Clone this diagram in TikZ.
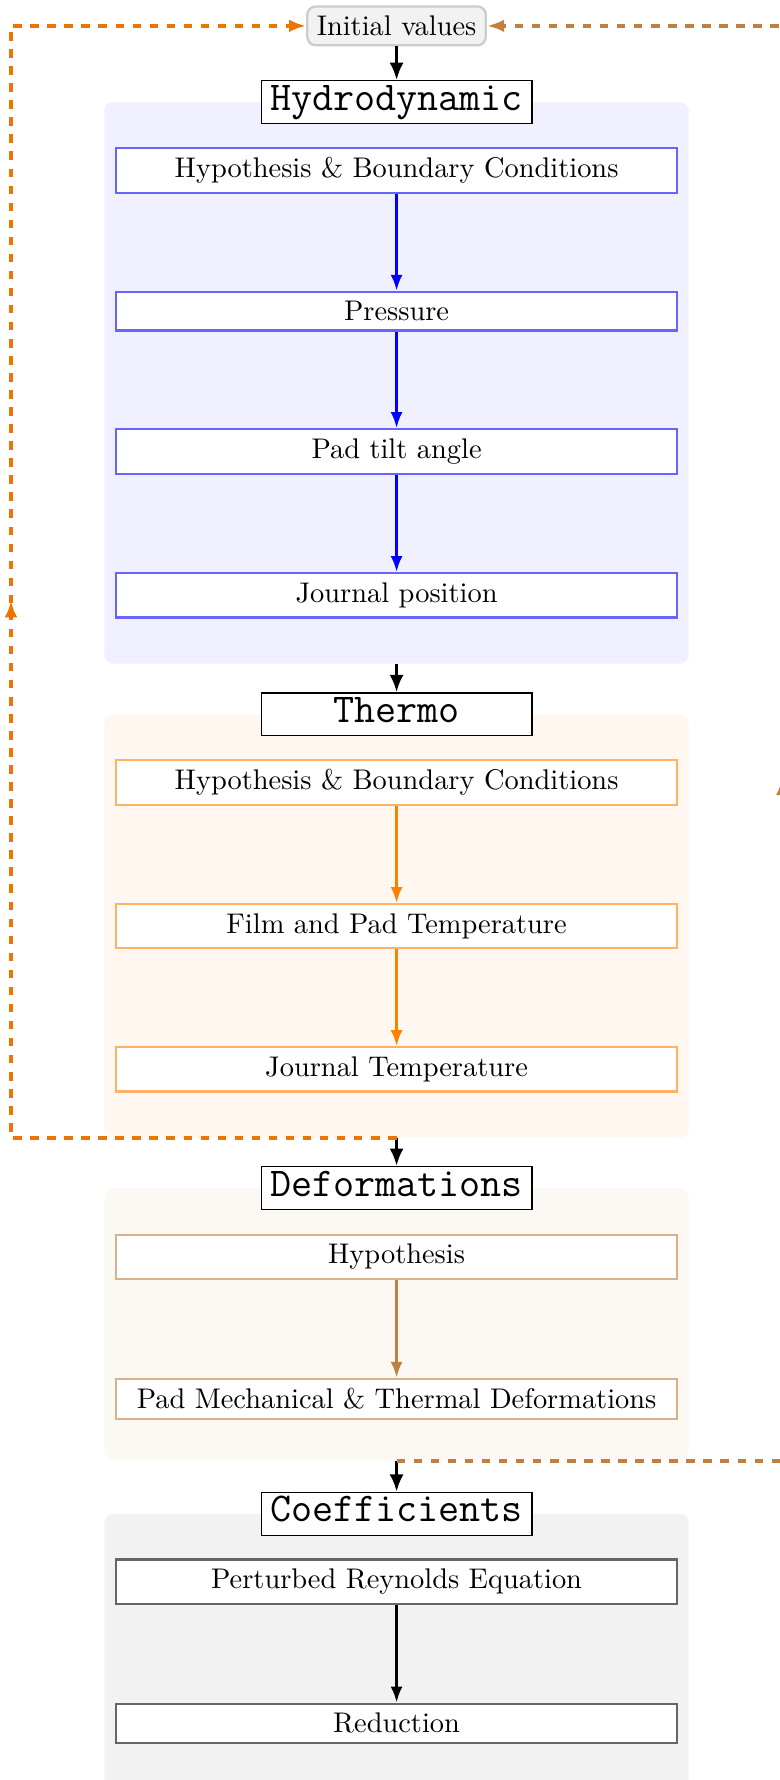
\documentclass[tikz,border=0pt]{standalone}
\usepackage{tikz}
\usetikzlibrary{arrows.meta, calc, fit, backgrounds, decorations.markings}

\begin{document}
\begin{tikzpicture} [scale = 1,
  block/.style = {draw = #1, fill = white, thick, minimum width = 6.94cm, anchor = north},
  sectitle/.style = {draw, fill = white, font = \Large\ttfamily, minimum width = 3.35cm, inner xsep = 2pt, inner ysep = 1.55pt, text height = 8.8pt, text depth = 3.2pt},
  initbox/.style = {draw = gray!40, fill = gray!10, thick, rounded corners = 3pt},
  panel/.style = {fill = #1, rounded corners = 3pt, inner xsep = 0.13cm, inner ysep = 0pt},
  flow/.style = {-{Latex[length = 5.6pt, width = 4.2pt]}, line width = 1pt},
  link/.style = {-{Latex[length = 6.2pt, width = 5pt]}, line width = 1.3pt},
  feedback/.style = {dashed, line width = 1.2pt, -{Latex[length = 6pt, width = 4.4pt]},
    postaction = {decorate, decoration = {markings, mark = at position #1 with {\arrow{Latex[length = 6pt, width = 4.4pt]}}}}}]
\useasboundingbox (0, 0) rectangle (9.638, -22.02);

\node[initbox] (init) at (4.906, -0.32) {Initial values};

\node[sectitle] (hydtitle) at (4.906, -1.265) {Hydrodynamic};
\node[block = blue!60] (hypbc) at (4.906, -1.813) {Hypothesis \& Boundary Conditions};
\node[block = blue!60] (pressure) at (4.906, -3.597) {Pressure};
\node[block = blue!60] (tilt) at (4.906, -5.296) {Pad tilt angle};
\node[block = blue!60] (jpos) at (4.906, -7.077) {Journal position};

\node[sectitle] (thmtitle) at (4.906, -8.838) {Thermo};
\node[block = orange!60] (thmbc) at (4.906, -9.386) {Hypothesis \& Boundary Conditions};
\node[block = orange!60] (filmtemp) at (4.906, -11.170) {Film and Pad Temperature};
\node[block = orange!60] (jtemp) at (4.906, -12.941) {Journal Temperature};

\node[sectitle] (deftitle) at (4.906, -14.698) {Deformations};
\node[block = brown!60] (defhyp) at (4.906, -15.26) {Hypothesis};
\node[block = brown!60] (paddef) at (4.906, -17.044) {Pad Mechanical \& Thermal Deformations};

\node[sectitle] (coeftitle) at (4.906, -18.729) {Coefficients};
\node[block = black!60] (reynolds) at (4.906, -19.277) {Perturbed Reynolds Equation};
\node[block = black!60] (reduction) at (4.906, -21.062) {Reduction};

\coordinate (hydend) at ($(jpos.south) + (0, -0.557)$);
\coordinate (thmend) at ($(jtemp.south) + (0, -0.557)$);
\coordinate (defend) at ($(paddef.south) + (0, -0.5)$);
\coordinate (coefend) at ($(reduction.south) + (0, -0.557)$);

\begin{scope}[on background layer]
\node[panel = blue!6, fit = (hydtitle.center)(hypbc)(hydend)] (hydro) {};
\node[panel = orange!6, fit = (thmtitle.center)(thmbc)(thmend)] (thermo) {};
\node[panel = brown!5, fit = (deftitle.center)(defhyp)(defend)] (deform) {};
\node[panel = gray!10, fit = (coeftitle.center)(reynolds)(coefend)] (coef) {};
\end{scope}

\draw[flow, blue] (hypbc) -- (pressure);
\draw[flow, blue] (pressure) -- (tilt);
\draw[flow, blue] (tilt) -- (jpos);
\draw[flow, orange] (thmbc) -- (filmtemp);
\draw[flow, orange] (filmtemp) -- (jtemp);
\draw[flow, brown] (defhyp) -- (paddef);
\draw[flow, black] (reynolds) -- (reduction);

\draw[link] (init) -- (hydtitle);
\draw[link] (hydro.south) -- (thmtitle);
\draw[link] (thermo.south) -- (deftitle);
\draw[link] (deform.south) -- (coeftitle);

\coordinate (lftcorner) at (0.136, -0.32);
\coordinate (rgtcorner) at (9.676, -0.32);
\draw[feedback = 0.515, orange!92!black] (thermo.south) -| (lftcorner) -- (init);
\draw[feedback = 0.505, brown] (deform.south) -| (rgtcorner) -- (init);
\end{tikzpicture}
\end{document}
